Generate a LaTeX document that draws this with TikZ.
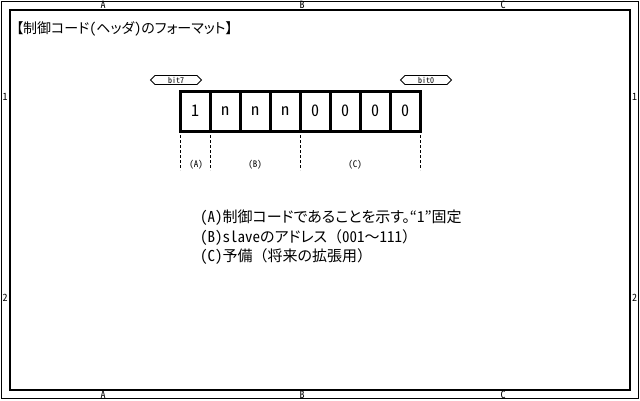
\documentclass[tikz,border=0pt]{standalone}
\usepackage{fontspec}
\newfontfamily\jp[RawFeature={+palt;+hwid}]{Noto Sans CJK JP}
\newfontfamily\jpwide{Noto Sans CJK JP}
\usetikzlibrary{positioning,shapes.symbols}

\tikzset{
  bitcell/.style={draw, line width=3pt, minimum width=30pt, minimum height=40pt,
    outer sep=0pt, inner sep=0pt, font=\jp\fontsize{16}{16}\selectfont},
  bittag/.style={draw, signal, signal to=west and east, line width=0.8pt,
    minimum width=51pt, minimum height=9pt, inner sep=1pt,
    font=\jp\fontsize{8}{8}\selectfont},
  field/.style={font=\jp\fontsize{9}{9}\selectfont, inner sep=0pt},
  note/.style={anchor=west, inner sep=0pt, font=\jp\fontsize{15}{15}\selectfont},
  ruler/.style={inner sep=0pt, font=\jp\fontsize{10}{10}\selectfont},
  cut/.style={line width=0.8pt, dash pattern=on 3pt off 2pt}
}

\begin{document}
\begin{tikzpicture}[x=1pt, y=-1pt]
        \useasboundingbox (0,0) rectangle (640,400);
        \fill[white] (0,0) rectangle (640,400);
        \draw[line width=1pt] (1,1) rectangle (638.5,398.5);
        \draw[line width=1.2pt] (10,10) rectangle (630,390);

        % sheet ruler
        \node[ruler] (topA) at (103,5) {A};
        \node[ruler] (topB) at (302,5) {B};
        \node[ruler] (topC) at (503,5) {C};
        \node[ruler] (botA) at (103,394.5) {A};
        \node[ruler] (botB) at (302,394.5) {B};
        \node[ruler] (botC) at (503,394.5) {C};
        \node[ruler] (left1) at (5,97) {1};
        \node[ruler] (left2) at (5,298) {2};
        \node[ruler] (right1) at (634.5,97) {1};
        \node[ruler] (right2) at (634.5,298) {2};

        \node[note, font=\jp\fontsize{14}{14}\selectfont] (title) at (16,29) {【制御コード（ヘッダ）のフォーマット】};

        % header byte
        \node[bitcell] (c7) at (195,111) {1};
        \node[bitcell, right=0pt of c7] (c6) {n};
        \node[bitcell, right=0pt of c6] (c5) {n};
        \node[bitcell, right=0pt of c5] (c4) {n};
        \node[bitcell, right=0pt of c4] (c3) {0};
        \node[bitcell, right=0pt of c3] (c2) {0};
        \node[bitcell, right=0pt of c2] (c1) {0};
        \node[bitcell, right=0pt of c1] (c0) {0};

        \node[bittag] (bit7) at (176,80) {bit7};
        \node[bittag] (bit0) at (426,80) {bit0};

        \coordinate (t1) at (180,135);
        \coordinate (b1) at (180,170);
        \coordinate (t2) at (210,135);
        \coordinate (b2) at (210,170);
        \coordinate (t3) at (300,135);
        \coordinate (b3) at (300,170);
        \coordinate (t4) at (420,135);
        \coordinate (b4) at (420,170);
        \draw[cut] (t1) -- (b1);
        \draw[cut] (t2) -- (b2);
        \draw[cut] (t3) -- (b3);
        \draw[cut] (t4) -- (b4);

        \node[field] (fA) at (196,165) {(A)};
        \node[field] (fB) at (255,165) {(B)};
        \node[field] (fC) at (355,165) {(C)};

        \node[note] (noteA) at (200,218) {(A)制御コードであることを示す。“1”固定};
        \node[note] (noteB) at (200,238) {(B)slaveのアドレス{\jpwide （}001{\jpwide ～}111{\jpwide ）}};
        \node[note] (noteC) at (200,257) {(C)予備{\jpwide （}将来の拡張用{\jpwide ）}};
      \end{tikzpicture}
\end{document}
